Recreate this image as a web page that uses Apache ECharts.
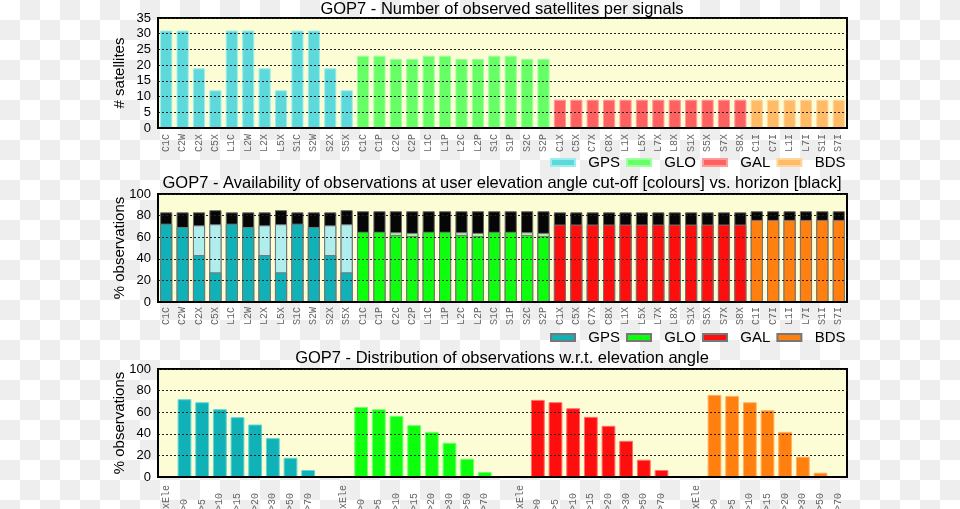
<!DOCTYPE html>
<html><head><meta charset="utf-8">
<script src="https://cdn.jsdelivr.net/npm/echarts@6/dist/echarts.min.js"></script>
<style>
html,body{margin:0;padding:0;width:960px;height:509px;overflow:hidden;
background: repeating-conic-gradient(#eeeeee 0 25%, #ffffff 0 50%) 0 0/40px 40px;}
#chart{width:960px;height:509px;}
</style></head><body><div id="chart"></div>
<script>
// ---------- categories ----------
const signalsGPS = ['C1C','C2W','C2X','C5X','L1C','L2W','L2X','L5X','S1C','S2W','S2X','S5X'];
const signalsGLO = ['C1C','C1P','C2C','C2P','L1C','L1P','L2C','L2P','S1C','S1P','S2C','S2P'];
const signalsGAL = ['C1X','C5X','C7X','C8X','L1X','L5X','L7X','L8X','S1X','S5X','S7X','S8X'];
const signalsBDS = ['C1I','C7I','L1I','L7I','S1I','S7I'];
const elevationBins = ['maxEle','>0','>5','>10','>15','>20','>30','>50','>70'];
const constellations = ['GPS','GLO','GAL','BDS'];

// ---------- panel 1: number of satellites ----------
const satGPS = [31,31,19,12,31,31,19,12,31,31,19,12];
const satGLO = [23,23,22,22,23,23,22,22,23,23,22,22];
const satGAL = [9,9,9,9,9,9,9,9,9,9,9,9];
const satBDS = [9,9,9,9,9,9];

// ---------- panel 2: availability (%), horizon / secondary / cut-off ----------
const horizonGPS = [83,83,83,85,83,83,83,85,83,83,83,85];
const horizonGLO = [84,84,84,84,84,84,84,84,84,84,84,84];
const horizonGAL = [83,83,83,83,83,83,83,83,83,83,83,83];
const horizonBDS = [84,84,84,84,84,84];
const lightGPS = ['-','-',71,72,'-','-',71,72,'-','-',71,72];
const lightGLO = ['-','-',64.6,64,'-','-',64.6,64,'-','-',64.6,64];
const cutoffGPS = [72.5,69.5,43.5,27.5,72.5,69.5,43.5,27.5,72.5,69.5,43.5,27.5];
const cutoffGLO = [65,65,62,61,65,65,62,61,65,65,62,61];
const cutoffGAL = [71.7,71.7,71.7,71.7,71.7,71.7,71.7,71.7,71.7,71.7,71.7,71.7];
const cutoffBDS = [76,76,76,76,76,76];

// ---------- panel 3: distribution w.r.t. elevation (%) ----------
const eleGPS = ['-',72,69.2,62.8,55.4,48.6,36,17.8,6.5];
const eleGLO = ['-',64.9,62.8,56.6,48,41.8,31.7,16.9,4.6];
const eleGAL = ['-',71.4,69.3,63.7,55.7,47.4,33.5,16,6.5];
const eleBDS = ['-',76,75.1,69.2,61.8,41.8,18.8,4,0.9];

// ---------- build tables ----------
const cats1 = [].concat(signalsGPS, signalsGLO, signalsGAL, signalsBDS);
const N1 = cats1.length;
const off1 = [0, signalsGPS.length, signalsGPS.length + signalsGLO.length,
              signalsGPS.length + signalsGLO.length + signalsGAL.length];
function place(values, offset, total) {
  const a = new Array(total).fill('-');
  values.forEach((v, i) => { a[offset + i] = v; });
  return a;
}
const cats3 = [];
constellations.forEach((c, i) => {
  elevationBins.forEach(b => cats3.push(b));
  if (i < constellations.length - 1) cats3.push('');
});
const N3 = cats3.length;
const step3 = elevationBins.length + 1;

const FONT = '"Liberation Sans", Arial, sans-serif';
const MONO = '"Liberation Mono", "Courier New", monospace';
const PLOTBG = '#fdfdd5';

const col1 = ['#5ed9db', '#66ff66', '#ff6060', '#ffbb66'];
const bor1 = ['#9beeee', '#a0ffa0', '#ff9a9a', '#ffd6a0'];
const col2 = ['#10b1b7', '#0dff0d', '#ff0e0e', '#ff800e'];
const light2 = ['#b0eded', '#a8f3a8'];
const bor3 = ['#5fd6d6', '#70ff70', '#ff7070', '#ffb060'];

const grids = [
  {left: 158, right: 113, top: 18, height: 110},
  {left: 158, right: 113, top: 194, height: 108},
  {left: 158, right: 113, top: 369, height: 108}
].map(g => Object.assign(g, {show: true, backgroundColor: PLOTBG, borderColor: '#000', borderWidth: 2,
                             containLabel: false, outerBoundsMode: 'none'}));

function xAxisCfg(idx, data, margin, align) {
  return {
    type: 'category', gridIndex: idx, data: data, z: 5,
    axisLine: {show: true, lineStyle: {color: '#000', width: 2}},
    axisTick: {show: false},
    axisLabel: {interval: 0, rotate: 90, margin: margin, fontFamily: MONO, fontSize: 10, color: '#666',
                align: align, hideOverlap: false}
  };
}
function yAxisCfg(idx, max, interval, name) {
  return {
    type: 'value', gridIndex: idx, min: 0, max: max, interval: interval, z: 5,
    name: name, nameLocation: 'middle', nameGap: 31, nameMoveOverlap: false,
    nameTextStyle: {fontFamily: FONT, fontSize: 15, color: '#000'},
    axisLine: {show: true, lineStyle: {color: '#000', width: 2}},
    axisTick: {show: false},
    axisLabel: {fontFamily: FONT, fontSize: 13, color: '#000', margin: 7},
    splitLine: {show: true, lineStyle: {color: '#222', type: [2, 2], width: 1}}
  };
}

const x3 = xAxisCfg(2, cats3, 44, 'left');
x3.axisLabel.formatter = v => v === 'maxEle' ? '{m|' + v + '}' : '{s|' + v + '}';
x3.axisLabel.rich = {m: {fontFamily: MONO, fontSize: 10, color: '#666'},
                     s: {fontFamily: MONO, fontSize: 10, color: '#666', padding: [0, 0, 0, 10]}};

const series = [];
// panel 1
[satGPS, satGLO, satGAL, satBDS].forEach((vals, i) => {
  series.push({
    type: 'bar', name: constellations[i], xAxisIndex: 0, yAxisIndex: 0,
    data: place(vals, off1[i], N1), barGap: '-100%', barCategoryGap: '26%',
    itemStyle: {color: col1[i], borderColor: bor1[i], borderWidth: 1}
  });
});
// panel 2: horizon (black)
const horizonAll = [].concat(horizonGPS, horizonGLO, horizonGAL, horizonBDS);
series.push({
  type: 'bar', name: 'horizon', xAxisIndex: 1, yAxisIndex: 1, data: horizonAll,
  barGap: '-100%', barCategoryGap: '26%',
  itemStyle: {color: '#060606', borderColor: '#666', borderWidth: 1}
});
[lightGPS, lightGLO].forEach((vals, i) => {
  series.push({
    type: 'bar', name: 'light' + i, xAxisIndex: 1, yAxisIndex: 1, data: place(vals, off1[i], N1),
    barGap: '-100%', barCategoryGap: '26%',
    itemStyle: {color: light2[i], borderColor: '#777', borderWidth: 1}
  });
});
[cutoffGPS, cutoffGLO, cutoffGAL, cutoffBDS].forEach((vals, i) => {
  series.push({
    type: 'bar', name: constellations[i] + ' ', xAxisIndex: 1, yAxisIndex: 1, data: place(vals, off1[i], N1),
    barGap: '-100%', barCategoryGap: '26%',
    itemStyle: {color: col2[i], borderColor: '#777', borderWidth: 1}
  });
});
// panel 3
[eleGPS, eleGLO, eleGAL, eleBDS].forEach((vals, i) => {
  series.push({
    type: 'bar', name: constellations[i] + '  ', xAxisIndex: 2, yAxisIndex: 2, data: place(vals, i * step3, N3),
    barGap: '-100%', barCategoryGap: '22%',
    itemStyle: {color: col2[i], borderColor: bor3[i], borderWidth: 1}
  });
});

function legendCfg(top, suffix) {
  return {
    data: constellations.map(c => c + suffix), left: 550, top: top, itemWidth: 24, itemHeight: 7,
    itemGap: 6, icon: 'rect', selectedMode: false, padding: 0,
    formatter: n => '  ' + n.trim(),
    textStyle: {fontFamily: FONT, fontSize: 15, color: '#000'}
  };
}
function titleCfg(text, top) {
  return {text: text, left: 502, top: top, textAlign: 'center', padding: 0,
          textStyle: {fontFamily: FONT, fontSize: 16.5, fontWeight: 'normal', color: '#000'}};
}

const chart = echarts.init(document.getElementById('chart'), null, {renderer: 'canvas'});
chart.setOption({
  animation: false,
  title: [
    titleCfg('GOP7 - Number of observed satellites per signals', 1),
    titleCfg('GOP7 - Availability of observations at user elevation angle cut-off [colours] vs. horizon [black]', 175),
    titleCfg('GOP7 - Distribution of observations w.r.t. elevation angle', 350)
  ],
  legend: [legendCfg(155, ''), legendCfg(330, ' ')],
  grid: grids,
  xAxis: [xAxisCfg(0, cats1, 6, 'right'), xAxisCfg(1, cats1, 5, 'right'), x3],
  yAxis: [yAxisCfg(0, 35, 5, '# satellites'), yAxisCfg(1, 100, 20, '% observations'), yAxisCfg(2, 100, 20, '% observations')],
  series: series
});
</script></body></html>
